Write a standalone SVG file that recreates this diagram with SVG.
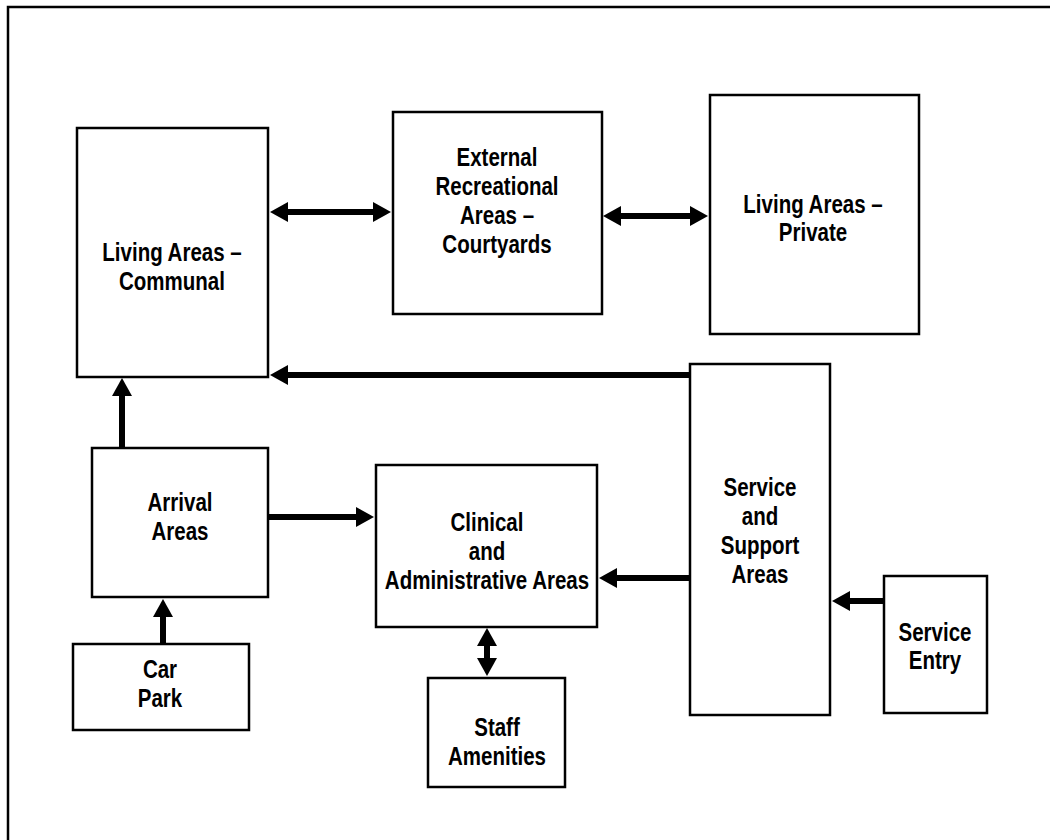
<svg xmlns="http://www.w3.org/2000/svg" width="1050" height="840" viewBox="0 0 1050 840">
<style>
.box{fill:#fff;stroke:#000;stroke-width:2.5}
.frame{fill:none;stroke:#000;stroke-width:2.5}
.lbl{font-family:"Liberation Sans","Arial",sans-serif;font-weight:bold;font-size:25px;text-anchor:middle;fill:#000}
.arr{stroke:#000;stroke-width:6;fill:none;marker-end:url(#ah)}
.bi{marker-start:url(#ah)}
</style>
<defs>
<marker id="ah" viewBox="0 0 18 20" refX="5" refY="10" markerWidth="18" markerHeight="20" markerUnits="userSpaceOnUse" orient="auto-start-reverse">
<path d="M0,0 L18,10 L0,20 z" fill="#000"/>
</marker>
</defs>
<rect width="1050" height="840" fill="#fff"/>
<rect class="frame" x="8" y="7" width="1100" height="900"/>
<g id="connectors">
<line class="arr bi" x1="283" y1="212" x2="378" y2="212"/>
<line class="arr bi" x1="616" y1="216" x2="695" y2="216"/>
<line class="arr" x1="689" y1="375" x2="283" y2="375"/>
<line class="arr" x1="122" y1="447" x2="122" y2="391"/>
<line class="arr" x1="269" y1="517" x2="361" y2="517"/>
<line class="arr" x1="689" y1="578" x2="612" y2="578"/>
<line class="arr" x1="163" y1="644" x2="163" y2="612"/>
<line class="arr bi" x1="487" y1="641" x2="487" y2="663"/>
<line class="arr" x1="883" y1="601" x2="845" y2="601"/>
</g>
<g id="communal"><rect class="box" x="77" y="128" width="191" height="249"/>
<g transform="translate(172 0) scale(0.82 1)"><text class="lbl" x="0" y="261">Living Areas –</text><text class="lbl" x="0" y="290">Communal</text></g></g>
<g id="courtyards"><rect class="box" x="393" y="112" width="209" height="202"/>
<g transform="translate(497 0) scale(0.82 1)"><text class="lbl" x="0" y="166">External</text><text class="lbl" x="0" y="195">Recreational</text><text class="lbl" x="0" y="224">Areas –</text><text class="lbl" x="0" y="253">Courtyards</text></g></g>
<g id="private"><rect class="box" x="710" y="95" width="209" height="239"/>
<g transform="translate(813 0) scale(0.82 1)"><text class="lbl" x="0" y="213">Living Areas –</text><text class="lbl" x="0" y="241">Private</text></g></g>
<g id="service"><rect class="box" x="690" y="364" width="140" height="351"/>
<g transform="translate(760 0) scale(0.82 1)"><text class="lbl" x="0" y="496">Service</text><text class="lbl" x="0" y="525">and</text><text class="lbl" x="0" y="554">Support</text><text class="lbl" x="0" y="583">Areas</text></g></g>
<g id="arrival"><rect class="box" x="92" y="448" width="176" height="149"/>
<g transform="translate(180 0) scale(0.82 1)"><text class="lbl" x="0" y="511">Arrival</text><text class="lbl" x="0" y="540">Areas</text></g></g>
<g id="clinical"><rect class="box" x="376" y="465" width="221" height="162"/>
<g transform="translate(487 0) scale(0.82 1)"><text class="lbl" x="0" y="531">Clinical</text><text class="lbl" x="0" y="560">and</text><text class="lbl" x="0" y="589">Administrative Areas</text></g></g>
<g id="carpark"><rect class="box" x="73" y="644" width="176" height="86"/>
<g transform="translate(160 0) scale(0.82 1)"><text class="lbl" x="0" y="678">Car</text><text class="lbl" x="0" y="707">Park</text></g></g>
<g id="staff"><rect class="box" x="428" y="678" width="137" height="109"/>
<g transform="translate(497 0) scale(0.82 1)"><text class="lbl" x="0" y="736">Staff</text><text class="lbl" x="0" y="765">Amenities</text></g></g>
<g id="entry"><rect class="box" x="884" y="576" width="103" height="137"/>
<g transform="translate(935 0) scale(0.82 1)"><text class="lbl" x="0" y="641">Service</text><text class="lbl" x="0" y="669">Entry</text></g></g>
</svg>
